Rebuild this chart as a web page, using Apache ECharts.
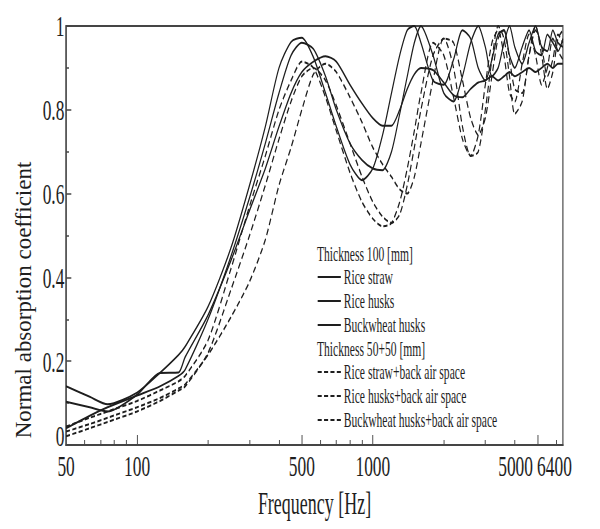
<!DOCTYPE html>
<html>
<head>
<meta charset="utf-8">
<script src="https://cdn.jsdelivr.net/npm/echarts@6/dist/echarts.min.js"></script>
<style>
html,body{margin:0;padding:0;width:600px;height:529px;overflow:hidden;background:#fff}
#chart{width:1035px;height:529px;transform:scaleX(0.579710);transform-origin:0 0;}
</style>
</head>
<body>
<div id="chart"></div>
<script>
// ---- data ----
const FREQ_HZ = [50, 63, 75, 100, 125, 150, 160, 200, 250, 300,
  350, 400, 450, 500, 560, 630, 700, 800, 900, 1000,
  1100, 1200, 1300, 1400, 1500, 1600, 1800, 2000, 2200, 2400,
  2600, 2800, 3000, 3200, 3400, 3600, 3800, 4000, 4300, 4600,
  4900, 5200, 5500, 5800, 6100, 6400];

const RICE_STRAW = [0.14, 0.115, 0.097, 0.125, 0.172, 0.215, 0.235, 0.33, 0.47, 0.62,
  0.76, 0.90, 0.962, 0.972, 0.925, 0.84, 0.76, 0.67, 0.632, 0.66,
  0.74, 0.84, 0.93, 0.99, 1.0, 0.96, 0.87, 0.86, 0.92, 0.99,
  0.97, 0.9, 0.87, 0.92, 0.98, 0.99, 0.93, 0.9, 0.95, 0.99,
  0.94, 0.93, 0.98, 0.96, 0.94, 0.97];

const RICE_HUSKS = [0.103, 0.09, 0.08, 0.12, 0.172, 0.173, 0.21, 0.31, 0.44, 0.56,
  0.66, 0.76, 0.84, 0.89, 0.915, 0.928, 0.915, 0.86, 0.815, 0.78,
  0.762, 0.762, 0.80, 0.85, 0.885, 0.90, 0.895, 0.865, 0.835, 0.83,
  0.85, 0.865, 0.87, 0.88, 0.87, 0.88, 0.89, 0.88, 0.89, 0.9,
  0.89, 0.9, 0.91, 0.9, 0.91, 0.91];

const BUCKWHEAT_HUSKS = [0.04, 0.07, 0.09, 0.118, 0.14, 0.165, 0.18, 0.30, 0.45, 0.59,
  0.72, 0.84, 0.93, 0.96, 0.945, 0.88, 0.80, 0.72, 0.68, 0.66,
  0.656, 0.70, 0.79, 0.88, 0.96, 1.0, 0.93, 0.84, 0.82, 0.88,
  0.96, 1.0, 0.95, 0.88, 0.9, 0.96, 1.0, 0.95, 0.91, 0.96,
  1.0, 0.95, 0.94, 0.99, 0.96, 0.95];

const RICE_STRAW_AIR = [0.044, 0.065, 0.08, 0.105, 0.13, 0.152, 0.165, 0.25, 0.42, 0.57,
  0.69, 0.80, 0.87, 0.915, 0.90, 0.83, 0.75, 0.65, 0.58, 0.54,
  0.522, 0.53, 0.58, 0.66, 0.75, 0.84, 0.96, 0.93, 0.83, 0.73,
  0.69, 0.74, 0.86, 0.96, 0.99, 0.93, 0.84, 0.82, 0.91, 0.98,
  0.93, 0.86, 0.9, 0.97, 0.94, 0.92];

const RICE_HUSKS_AIR = [0.032, 0.05, 0.065, 0.09, 0.112, 0.135, 0.145, 0.215, 0.305, 0.39,
  0.49, 0.62, 0.71, 0.80, 0.885, 0.91, 0.89, 0.83, 0.77, 0.71,
  0.67, 0.64, 0.61, 0.60, 0.64, 0.72, 0.87, 0.97, 0.96, 0.87,
  0.78, 0.74, 0.78, 0.88, 0.97, 0.99, 0.92, 0.85, 0.84, 0.93,
  0.99, 0.95, 0.88, 0.92, 0.98, 0.96];

const BUCKWHEAT_HUSKS_AIR = [0.021, 0.04, 0.055, 0.08, 0.105, 0.13, 0.14, 0.22, 0.37, 0.50,
  0.62, 0.73, 0.82, 0.88, 0.90, 0.87, 0.81, 0.72, 0.64, 0.58,
  0.545, 0.53, 0.55, 0.62, 0.71, 0.80, 0.93, 0.97, 0.9, 0.76,
  0.69, 0.70, 0.80, 0.92, 1.0, 0.97, 0.88, 0.79, 0.82, 0.93,
  1.0, 0.93, 0.85, 0.89, 0.97, 0.99];

const X_LABELS = [50, 100, 500, 1000, 5000, 6400];
const X_MAJOR_TICKS = [100, 500, 1000, 5000];
const X_MINOR_TICKS = [60, 70, 80, 90, 200, 300, 400, 600, 700, 800, 900, 2000, 3000, 4000, 6000];

const SOLID_NAMES = ['Rice straw', 'Rice husks', 'Buckwheat husks'];
const DASHED_NAMES = ['Rice straw+back air space', 'Rice husks+back air space', 'Buckwheat husks+back air space'];

// ---- chart ----
const W = 1035, H = 529, SX = 600 / W;
const FONT = '"Liberation Serif", "Times New Roman", serif';
const INK = '#1e1e1e';
const AXIS = '#454545';

const chart = echarts.init(document.getElementById('chart'), null, {renderer: 'svg', width: W, height: H});

function pairs(vals) { return FREQ_HZ.map((f, i) => [f, vals[i]]); }
function mk(name, vals, dashed) {
  return {
    name: name, type: 'line', data: pairs(vals), symbol: 'none', smooth: 0.25,
    xAxisIndex: 0, yAxisIndex: 0,
    lineStyle: {color: INK, width: 2, type: dashed ? [7, 4] : 'solid'},
    itemStyle: {color: INK},
    emphasis: {disabled: true}
  };
}

const legendCommon = {
  orient: 'vertical', left: 547, itemWidth: 40, itemHeight: 16, itemGap: 4,
  padding: 0, selectedMode: false,
  itemStyle: {opacity: 0},
  textStyle: {fontFamily: FONT, fontSize: 20, color: INK}
};

chart.setOption({
  animation: false,
  backgroundColor: '#fff',
  grid: {left: 114, right: 64, top: 26, bottom: 84, show: true, borderColor: AXIS, borderWidth: 2, containLabel: false},
  xAxis: [{
    type: 'log', logBase: 10, min: 50, max: 6400,
    axisLine: {lineStyle: {color: AXIS, width: 2}},
    axisTick: {inside: true, length: 10, customValues: X_MAJOR_TICKS, lineStyle: {color: AXIS, width: 1.6}},
    minorTick: {show: false},
    splitLine: {show: false},
    axisLabel: {
      customValues: X_LABELS, showMinLabel: true, showMaxLabel: true,
      fontFamily: FONT, fontSize: 30, color: INK, margin: 6,
      formatter: function (v) {
        const r = Math.round(v);
        if (r === 5000) return '{s5|5000}';
        if (r === 6400) return '{s6|6400}';
        return String(r);
      },
      rich: {
        s5: {fontFamily: FONT, fontSize: 30, color: INK, padding: [0, 76, 0, 0]},
        s6: {fontFamily: FONT, fontSize: 30, color: INK, padding: [0, 29, 0, 0]}
      }
    },
    name: 'Frequency [Hz]', nameLocation: 'middle', nameGap: 42,
    nameTextStyle: {fontFamily: FONT, fontSize: 31, color: INK}
  }, {
    type: 'log', logBase: 10, min: 50, max: 6400, position: 'bottom', offset: 0,
    axisLine: {show: false},
    axisTick: {inside: true, length: 5, customValues: X_MINOR_TICKS, lineStyle: {color: AXIS, width: 1.6}},
    axisLabel: {show: false},
    splitLine: {show: false}
  }],
  yAxis: {
    type: 'value', min: 0, max: 1, interval: 0.2,
    axisLine: {show: true, lineStyle: {color: AXIS, width: 2}},
    axisTick: {show: true, inside: true, length: 9, lineStyle: {color: AXIS, width: 1.5}},
    minorTick: {show: true, splitNumber: 2, length: 5, lineStyle: {color: AXIS, width: 1.5}},
    splitLine: {show: false},
    minorSplitLine: {show: false},
    axisLabel: {
      fontFamily: FONT, fontSize: 30, color: INK, margin: 3,
      formatter: function (v) {
        if (v === 0) return '{z|0}';
        return Math.abs(v - 1) < 1e-9 ? '1' : v.toFixed(1);
      },
      rich: {z: {fontFamily: FONT, fontSize: 30, color: INK, padding: [0, 0, 18, 0]}}
    }
  },
  legend: [
    Object.assign({data: SOLID_NAMES, top: 267}, legendCommon),
    Object.assign({data: DASHED_NAMES, top: 362}, legendCommon)
  ],
  graphic: [
    {type: 'text', x: 24 / SX, y: 300, rotation: Math.PI / 2, scaleY: 1 / SX,
     style: {text: 'Normal absorption coefficient', font: '23px ' + FONT, fill: INK, align: 'center', verticalAlign: 'middle'}},
    {type: 'text', x: 317 / SX, y: 254,
     style: {text: 'Thickness 100 [mm]', font: '20px ' + FONT, fill: INK, align: 'left', verticalAlign: 'middle'}},
    {type: 'text', x: 317 / SX, y: 349,
     style: {text: 'Thickness 50+50 [mm]', font: '20px ' + FONT, fill: INK, align: 'left', verticalAlign: 'middle'}}
  ],
  series: [
    mk(SOLID_NAMES[0], RICE_STRAW, false),
    mk(SOLID_NAMES[1], RICE_HUSKS, false),
    mk(SOLID_NAMES[2], BUCKWHEAT_HUSKS, false),
    mk(DASHED_NAMES[0], RICE_STRAW_AIR, true),
    mk(DASHED_NAMES[1], RICE_HUSKS_AIR, true),
    mk(DASHED_NAMES[2], BUCKWHEAT_HUSKS_AIR, true)
  ]
});
</script>
</body>
</html>
